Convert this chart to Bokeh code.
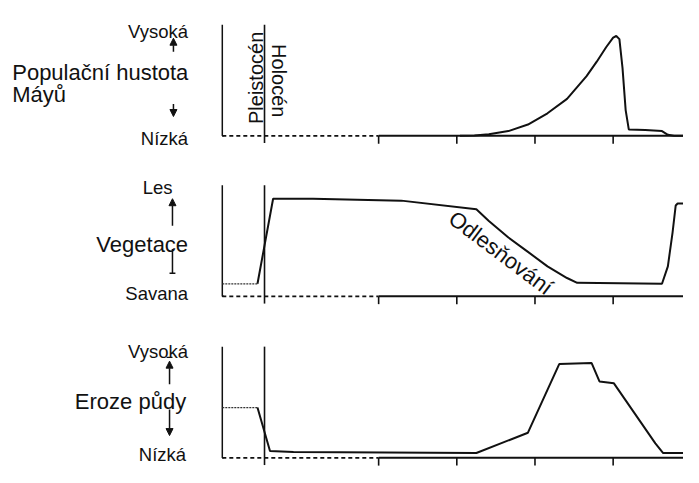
from bokeh.plotting import figure
from bokeh.models import Range1d, Arrow, NormalHead
from bokeh.core.properties import value
from bokeh.embed import file_html
from bokeh.resources import INLINE

# ---------------- data (time in tick units, values 0..1 per panel) ----------------
ticks = [0, 1, 2, 3]
t_left = -2.0          # start of the (broken) time axis
t_boundary = -1.46     # Pleistocene / Holocene boundary
t_break = 0.0          # end of the dashed (broken) axis part
t_end = 3.9

# Population density of the Maya
pop_t = [1.04, 1.225, 1.41, 1.66, 1.91, 2.16, 2.41, 2.66, 2.79, 2.91, 3.0, 3.04, 3.08, 3.12, 3.16, 3.2,
         3.41, 3.625, 3.7, 3.78, 3.9]
pop_v = [0.0, 0.004, 0.015, 0.043, 0.102, 0.203, 0.333, 0.537, 0.667, 0.797, 0.884, 0.898, 0.87, 0.609,
         0.232, 0.058, 0.052, 0.043, 0.009, 0.0, 0.0]

# Vegetation (savanna -> forest)
veg_pleist_t = [-2.0, -1.55]
veg_pleist_v = [0.113, 0.113]
veg_t = [-1.55, -1.35, -0.84, 0.29, 1.25, 1.41, 1.66, 1.91, 2.16, 2.41, 2.54, 3.625, 3.7, 3.76, 3.8, 3.825, 3.9]
veg_v = [0.113, 0.878, 0.878, 0.861, 0.783, 0.678, 0.53, 0.4, 0.27, 0.165, 0.122, 0.113, 0.27, 0.574, 0.817,
         0.835, 0.835]

# Soil erosion
ero_pleist_t = [-2.0, -1.55]
ero_pleist_v = [0.452, 0.452]
ero_t = [-1.55, -1.39, -1.09, 1.25, 1.91, 2.31, 2.725, 2.825, 3.01, 3.54, 3.64, 3.9]
ero_v = [0.452, 0.061, 0.052, 0.043, 0.226, 0.843, 0.852, 0.687, 0.67, 0.13, 0.043, 0.043]

# ---------------- layout helpers ----------------
PX0, PXU = 387.0, 80.0     # x of t=0 and pixels per time unit (reference pixels)
PY0, PYU = 473.0, 115.0    # y of bottom baseline and pixels per value unit (reference pixels)
REF_W, REF_H = 699, 483


def X(px):
    return (px - PX0) / PXU


def Y(py):
    return (PY0 - py) / PYU


offsets = [Y(140), Y(306), Y(473)]   # baselines of panel 1, 2, 3

W, H = 683, 467
p = figure(width=W, height=H, output_backend="svg", toolbar_location=None,
           x_range=Range1d(X(0), X(REF_W)), y_range=Range1d(Y(REF_H), Y(0)),
           min_border=0)
p.axis.visible = False
p.grid.visible = False
p.outline_line_color = None
p.background_fill_color = "white"
p.border_fill_color = "white"

INK = "#111111"
FONT = value("Liberation Sans")

for i, off in enumerate(offsets):
    # vertical axis lines
    p.line([t_left, t_left, t_left + 0.02], [off + 1.0, off, off], line_color=INK, line_width=1.5)
    p.line([t_boundary, t_boundary], [off + 1.0, off - 0.065], line_color=INK, line_width=1.6)
    # broken (dashed) and solid time axis
    p.line([t_left, t_break], [off, off], line_color=INK, line_width=1.6, line_dash="4 3")
    p.line([t_break, t_end], [off, off], line_color=INK, line_width=2)
    # ticks
    p.segment(x0=ticks, y0=[off] * len(ticks), x1=ticks, y1=[off - 0.07] * len(ticks),
              line_color=INK, line_width=1.6)

o1, o2, o3 = offsets
p.line(pop_t, [v + o1 for v in pop_v], line_color=INK, line_width=2)

p.line(veg_pleist_t, [v + o2 for v in veg_pleist_v], line_color="#333333", line_width=1.2, line_dash="2 1")
p.line(veg_t, [v + o2 for v in veg_v], line_color=INK, line_width=2)

p.line(ero_pleist_t, [v + o3 for v in ero_pleist_v], line_color="#333333", line_width=1.2, line_dash="2 1")
p.line(ero_t, [v + o3 for v in ero_v], line_color=INK, line_width=2)

# ---------------- texts ----------------
def txt(s, px, py, size, align="left", baseline="alphabetic", angle=0):
    p.text(x=[X(px)], y=[Y(py)], text=[s], text_font=FONT, text_font_size=f"{size}px",
           text_align=align, text_baseline=baseline, text_color=INK,
           angle=angle, angle_units="deg")

SMALL, BIG = 18.5, 22

# panel 1
txt("Vysoká", 192, 32, SMALL, "right")
txt("Populační hustota", 12, 74, BIG)
txt("Máyů", 12, 97, BIG)
txt("Nízká", 192, 143, SMALL, "right")
txt("Pleistocén", 261, 80, 20, "center", "alphabetic", 90)
txt("Holocén", 285, 83, 20, "center", "alphabetic", -90)

# panel 2
txt("Les", 176, 193, SMALL, "right")
txt("Vegetace", 192, 252, BIG, "right")
txt("Savana", 192, 303, SMALL, "right")
txt("Odlesňování", 512, 261, 22, "center", "middle", -37)

# panel 3
txt("Vysoká", 192, 363, SMALL, "right")
txt("Eroze půdy", 190, 415, BIG, "right")
txt("Nízká", 190, 470, SMALL, "right")


def arrow(px, py0, py1):
    p.add_layout(Arrow(end=NormalHead(size=7, fill_color=INK, line_color=INK, line_width=1),
                       x_start=X(px), y_start=Y(py0), x_end=X(px), y_end=Y(py1),
                       line_color=INK, line_width=1.5))


arrow(177, 53, 39)
arrow(177, 107, 120)
arrow(176, 233, 205)
p.line([X(176), X(176)], [Y(257), Y(282)], line_color=INK, line_width=1.5)
p.line([X(173), X(179)], [Y(282), Y(282)], line_color=INK, line_width=1.5)
p.line([X(170), X(176)], [Y(369), Y(369)], line_color=INK, line_width=1.2)
arrow(173, 397, 373)
arrow(173, 423, 450)

open("out.html", "w").write(file_html(p, INLINE))
